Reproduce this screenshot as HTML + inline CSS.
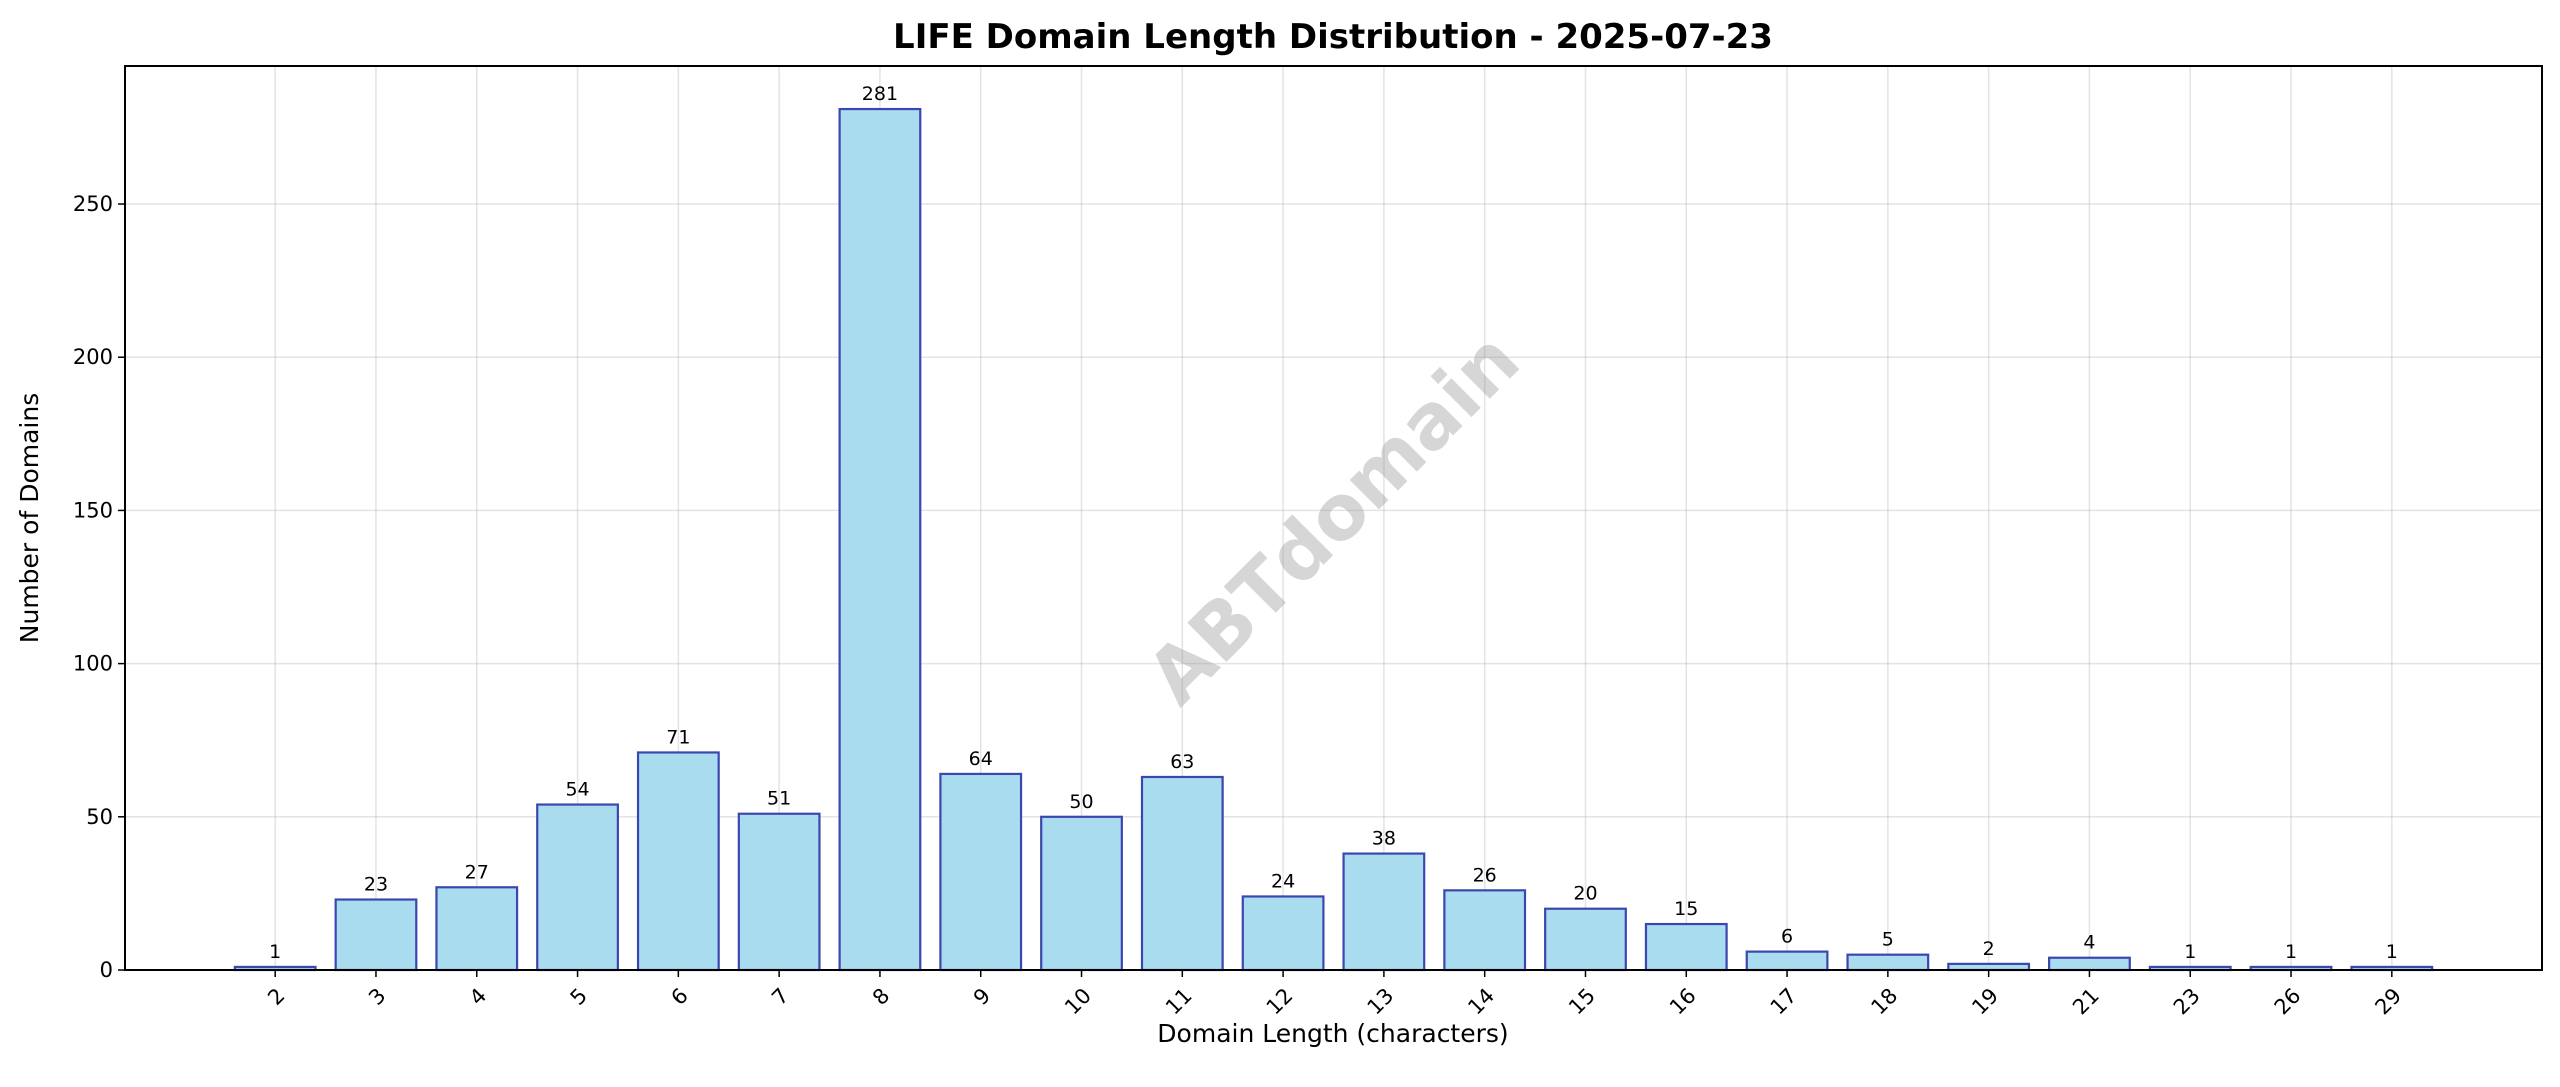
<!DOCTYPE html>
<html><head><meta charset="utf-8"><style>
body{margin:0;background:#fff;}
svg{display:block;font-family:"DejaVu Sans","Liberation Sans",sans-serif;}
</style></head><body>
<svg id="chart" width="2560" height="1087" viewBox="0 0 2560 1087" xmlns="http://www.w3.org/2000/svg">
<rect width="2560" height="1087" fill="#fff"/>
<g id="grid"></g>
<text x="1333" y="518" transform="rotate(-45 1333 518)" text-anchor="middle" dominant-baseline="central" font-size="76" font-weight="bold" fill="#999" fill-opacity="0.4">ABTdomain</text>
<g id="bars"></g>
<g id="labels"></g>
<rect x="125" y="66" width="2417" height="904" fill="none" stroke="#000" stroke-width="2"/>
<g id="xticks"></g>
<g id="yticks"></g>
<text x="1333" y="48" text-anchor="middle" font-size="34" font-weight="bold">LIFE Domain Length Distribution - 2025-07-23</text>
<text x="1333" y="1042" text-anchor="middle" font-size="25">Domain Length (characters)</text>
<text x="38" y="518" transform="rotate(-90 38 518)" text-anchor="middle" font-size="25">Number of Domains</text>
</svg>
<script>
const categories = ["2","3","4","5","6","7","8","9","10","11","12","13","14","15","16","17","18","19","21","23","26","29"];
const counts = [1,23,27,54,71,51,281,64,50,63,24,38,26,20,15,6,5,2,4,1,1,1];
const yTicks = [0,50,100,150,200,250];
const NS="http://www.w3.org/2000/svg";
const L=125,R=2542,T=66,B=970;
const n=categories.length;
const xmin=-0.4-0.05*(n-0.2), xmax=n-0.6+0.05*(n-0.2);
const ymax=Math.max(...counts)*1.05;
const xs=i=>L+(i-xmin)/(xmax-xmin)*(R-L);
const ys=v=>B-v/ymax*(B-T);
const bw=0.8*(R-L)/(xmax-xmin);
function mk(tag,attrs,parent,txt){const e=document.createElementNS(NS,tag);for(const k in attrs)e.setAttribute(k,attrs[k]);if(txt!==undefined)e.textContent=txt;document.getElementById(parent).appendChild(e);return e;}
categories.forEach((c,i)=>{
  const g=mk('line',{x1:xs(i),x2:xs(i),y1:T,y2:B,stroke:'#b0b0b0','stroke-opacity':0.35,'stroke-width':1.5},'grid');
  
  
});
yTicks.forEach(v=>{
  const g=mk('line',{x1:L,x2:R,y1:ys(v),y2:ys(v),stroke:'#b0b0b0','stroke-opacity':0.35,'stroke-width':1.5},'grid');
  
  
  const t=mk('line',{x1:L-7,x2:L,y1:ys(v),y2:ys(v),stroke:'#000','stroke-width':1.5},'yticks');
  
  
  const l=mk('text',{x:L-12,y:ys(v),'text-anchor':'end','dominant-baseline':'central','font-size':21},'yticks',String(v));
  
  
});
counts.forEach((v,i)=>{
  const x=xs(i);
  const r=mk('rect',{x:x-bw/2,y:ys(v),width:bw,height:B-ys(v),fill:'#a9dcef',stroke:'#3c46b0','stroke-width':2.2},'bars');
  
  
  const t=mk('text',{x:x,y:ys(v)-9,'text-anchor':'middle','font-size':19},'labels',String(v));
  
  
  const tk=mk('line',{x1:x,x2:x,y1:B,y2:B+7,stroke:'#000','stroke-width':1.5},'xticks');
  
  
  const lx=x+6, ly=B+22;
  const xl=mk('text',{x:lx,y:ly,'text-anchor':'end','dominant-baseline':'central','font-size':21,transform:`rotate(-45 ${lx} ${ly})`},'xticks',categories[i]);
  
  
});
</script>
</body></html>
